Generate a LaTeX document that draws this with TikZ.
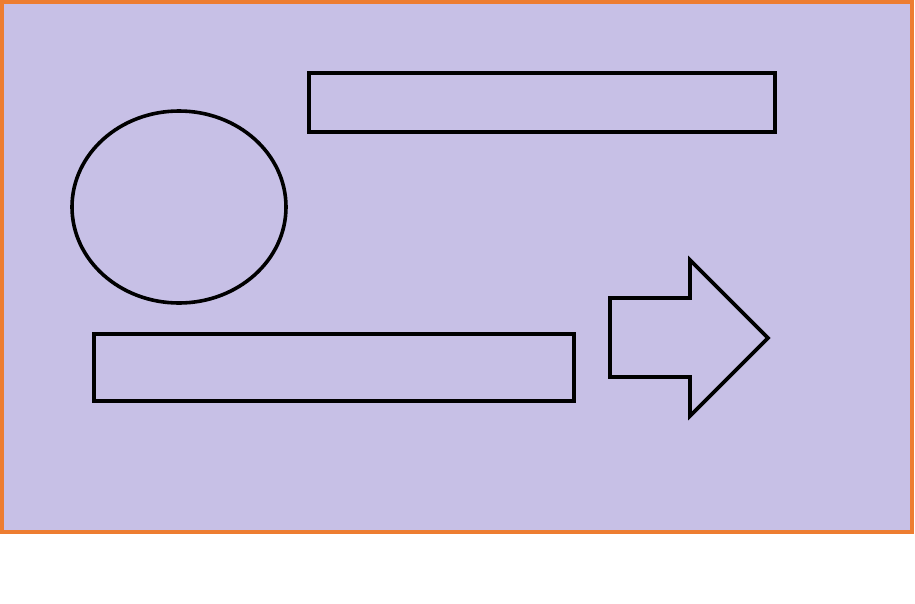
\documentclass[tikz,border=0pt]{standalone}
\usetikzlibrary{shapes.geometric}
\definecolor{bgpurple}{RGB}{199,192,230}
\definecolor{frameorange}{RGB}{237,125,49}
\begin{document}
\begin{tikzpicture}[x=1pt,y=-1pt,
  shapeline/.style={draw=black,line width=3.6pt,line join=miter}]
\useasboundingbox (0,0) rectangle (915,603);
\fill[white] (0,0) rectangle (915,603);
\draw[fill=bgpurple,draw=frameorange,line width=3.5pt] (2,2) rectangle (912,532);
\draw[shapeline] (309,73) rectangle (775,132);
\draw[shapeline] (179,207) ellipse [x radius=107, y radius=96];
\draw[shapeline] (94,334) rectangle (574,401);
\draw[shapeline] (610,298) -- (690,298) -- (690,260) -- (768,338) -- (690,416) -- (690,377) -- (610,377) -- cycle;
\end{tikzpicture}
\end{document}
